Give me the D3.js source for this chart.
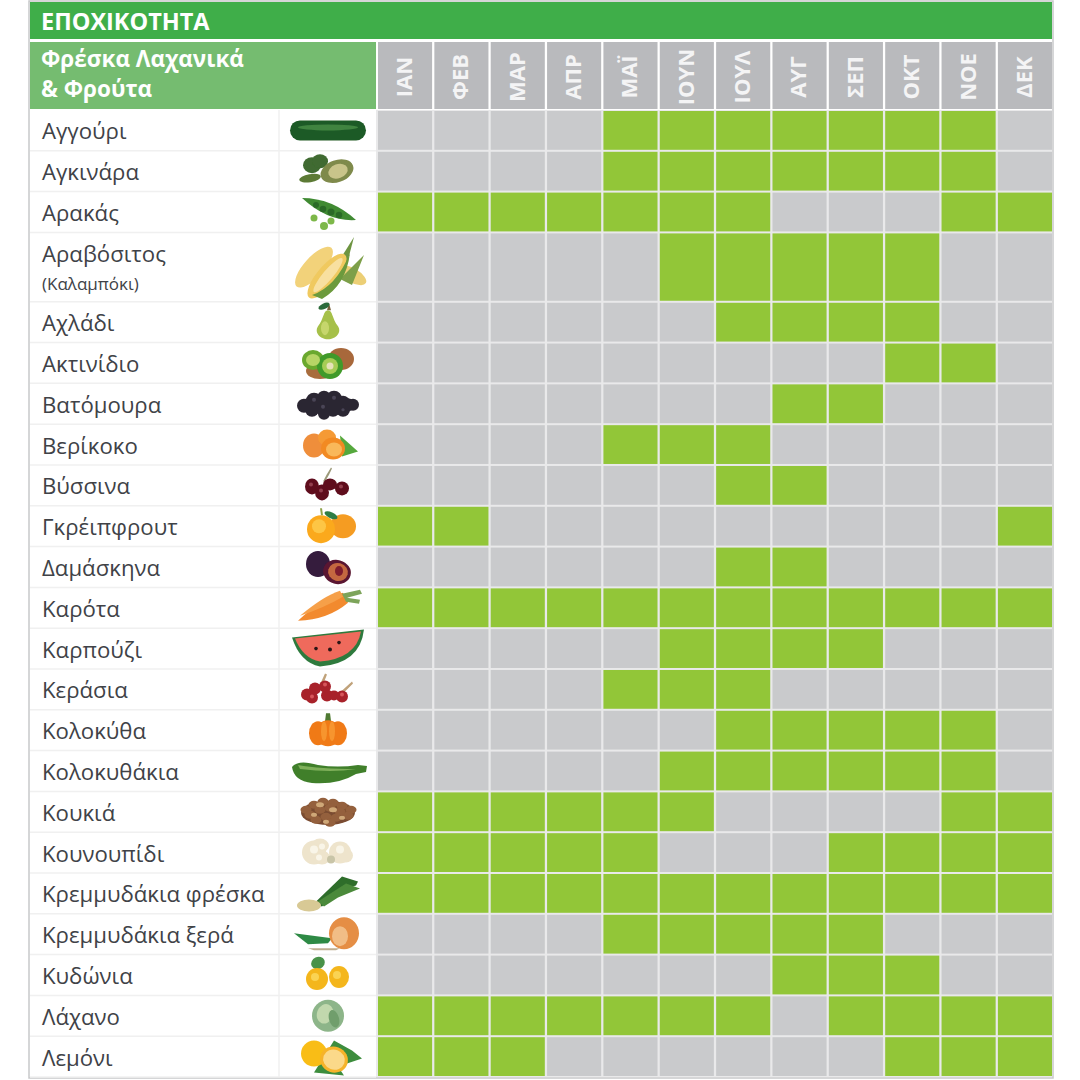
<!DOCTYPE html>
<html lang="el">
<head>
<meta charset="utf-8">
<script src="https://cdn.jsdelivr.net/npm/d3@7/dist/d3.min.js"></script>
<style>
  html, body { margin: 0; padding: 0; background: #fff; }
  svg { display: block; }
  text { font-family: "Open Sans", "Noto Sans", sans-serif; }
</style>
</head>
<body>
<div id="app"></div>
<script>
const title = "ΕΠΟΧΙΚΟΤΗΤΑ";
const subtitle = ["Φρέσκα Λαχανικά", "& Φρούτα"];
const months = ["ΙΑΝ", "ΦΕΒ", "ΜΑΡ", "ΑΠΡ", "ΜΑΪ", "ΙΟΥΝ", "ΙΟΥΛ", "ΑΥΓ", "ΣΕΠ", "ΟΚΤ", "ΝΟΕ", "ΔΕΚ"];
const foods = ["Αγγούρι", "Αγκινάρα", "Αρακάς", "Αραβόσιτος", "Αχλάδι", "Ακτινίδιο", "Βατόμουρα", "Βερίκοκο",
  "Βύσσινα", "Γκρέιπφρουτ", "Δαμάσκηνα", "Καρότα", "Καρπούζι", "Κεράσια", "Κολοκύθα", "Κολοκυθάκια",
  "Κουκιά", "Κουνουπίδι", "Κρεμμυδάκια φρέσκα", "Κρεμμυδάκια ξερά", "Κυδώνια", "Λάχανο", "Λεμόνι"];
const notes = { "Αραβόσιτος": "(Καλαμπόκι)" };
// months in season, per food, same order as foods
const seasons = [
  ["ΜΑΪ", "ΙΟΥΝ", "ΙΟΥΛ", "ΑΥΓ", "ΣΕΠ", "ΟΚΤ", "ΝΟΕ"],
  ["ΜΑΪ", "ΙΟΥΝ", "ΙΟΥΛ", "ΑΥΓ", "ΣΕΠ", "ΟΚΤ", "ΝΟΕ"],
  ["ΙΑΝ", "ΦΕΒ", "ΜΑΡ", "ΑΠΡ", "ΜΑΪ", "ΙΟΥΝ", "ΙΟΥΛ", "ΝΟΕ", "ΔΕΚ"],
  ["ΙΟΥΝ", "ΙΟΥΛ", "ΑΥΓ", "ΣΕΠ", "ΟΚΤ"],
  ["ΙΟΥΛ", "ΑΥΓ", "ΣΕΠ", "ΟΚΤ"],
  ["ΟΚΤ", "ΝΟΕ"],
  ["ΑΥΓ", "ΣΕΠ"],
  ["ΜΑΪ", "ΙΟΥΝ", "ΙΟΥΛ"],
  ["ΙΟΥΛ", "ΑΥΓ"],
  ["ΙΑΝ", "ΦΕΒ", "ΔΕΚ"],
  ["ΙΟΥΛ", "ΑΥΓ"],
  ["ΙΑΝ", "ΦΕΒ", "ΜΑΡ", "ΑΠΡ", "ΜΑΪ", "ΙΟΥΝ", "ΙΟΥΛ", "ΑΥΓ", "ΣΕΠ", "ΟΚΤ", "ΝΟΕ", "ΔΕΚ"],
  ["ΙΟΥΝ", "ΙΟΥΛ", "ΑΥΓ", "ΣΕΠ"],
  ["ΜΑΪ", "ΙΟΥΝ", "ΙΟΥΛ"],
  ["ΙΟΥΛ", "ΑΥΓ", "ΣΕΠ", "ΟΚΤ", "ΝΟΕ"],
  ["ΙΟΥΝ", "ΙΟΥΛ", "ΑΥΓ", "ΣΕΠ", "ΟΚΤ", "ΝΟΕ"],
  ["ΙΑΝ", "ΦΕΒ", "ΜΑΡ", "ΑΠΡ", "ΜΑΪ", "ΙΟΥΝ", "ΝΟΕ", "ΔΕΚ"],
  ["ΙΑΝ", "ΦΕΒ", "ΜΑΡ", "ΑΠΡ", "ΜΑΪ", "ΣΕΠ", "ΟΚΤ", "ΝΟΕ", "ΔΕΚ"],
  ["ΙΑΝ", "ΦΕΒ", "ΜΑΡ", "ΑΠΡ", "ΜΑΪ", "ΙΟΥΝ", "ΙΟΥΛ", "ΑΥΓ", "ΣΕΠ", "ΟΚΤ", "ΝΟΕ", "ΔΕΚ"],
  ["ΜΑΪ", "ΙΟΥΝ", "ΙΟΥΛ", "ΑΥΓ", "ΣΕΠ"],
  ["ΑΥΓ", "ΣΕΠ", "ΟΚΤ"],
  ["ΙΑΝ", "ΦΕΒ", "ΜΑΡ", "ΑΠΡ", "ΜΑΪ", "ΙΟΥΝ", "ΙΟΥΛ", "ΣΕΠ", "ΟΚΤ", "ΝΟΕ", "ΔΕΚ"],
  ["ΙΑΝ", "ΦΕΒ", "ΜΑΡ", "ΟΚΤ", "ΝΟΕ", "ΔΕΚ"]
];

const full = { width: 1080, height: 1080 };
const table = { left: 30, right: 1052, top: 2, bottom: 1077, grid: 378, thumb: 279, rows: 110 };
const colors = {
  title: "#3fae49", sub: "#75bc70", head: "#b9babd", off: "#c9cacc", on: "#92c638",
  line: "#e9e9ea", rule: "#f0f0f0", frame: "#c8c9ca", text: "#404247"
};

// the row with a note is taller than the rest
const spans = foods.map(f => notes[f] ? 1.7 : 1);
const edges = d3.cumsum([0, ...spans]);

const x = d3.scaleBand().domain(months).range([table.grid, table.right]).paddingInner(0.04).paddingOuter(0);
const y = d3.scaleLinear().domain([0, edges[edges.length - 1]]).range([table.rows, table.bottom]);

const svg = d3.select("#app").append("svg")
  .attr("width", full.width)
  .attr("height", full.height)
  .attr("viewBox", `0 0 ${full.width} ${full.height}`);

svg.append("defs").append("filter").attr("id", "soft")
  .append("feGaussianBlur").attr("stdDeviation", 0.5);

// frame and grid background
svg.append("rect")
  .attr("x", table.left - 1).attr("y", table.top - 1)
  .attr("width", table.right - table.left + 2).attr("height", table.bottom - table.top + 2)
  .attr("fill", "#fff").attr("stroke", colors.frame).attr("stroke-width", 1.5);
svg.append("rect")
  .attr("x", table.grid - 2).attr("y", table.rows)
  .attr("width", table.right - table.grid + 2).attr("height", table.bottom - table.rows)
  .attr("fill", colors.line);

// title bar + subheader
svg.append("rect")
  .attr("x", table.left).attr("y", table.top)
  .attr("width", table.right - table.left).attr("height", 37)
  .attr("fill", colors.title);
svg.append("text")
  .attr("x", 41).attr("y", 30)
  .attr("fill", "#fff").attr("font-size", 23.5).attr("font-weight", 700)
  .text(title);
svg.append("rect")
  .attr("x", table.left).attr("y", 42)
  .attr("width", table.grid - table.left - 2).attr("height", table.rows - 43)
  .attr("fill", colors.sub);
svg.selectAll(".sub").data(subtitle).join("text")
  .attr("class", "sub")
  .attr("x", 41).attr("y", (d, i) => 67 + i * 29.5)
  .attr("fill", "#fff").attr("font-size", 22.5).attr("font-weight", 700)
  .text(d => d);

// month headers
svg.selectAll(".head").data(months).join("rect")
  .attr("class", "head")
  .attr("x", d => x(d)).attr("y", 42)
  .attr("width", x.bandwidth()).attr("height", table.rows - 43)
  .attr("fill", colors.head);

const axis = svg.append("g")
  .attr("transform", "translate(-1,77)")
  .call(d3.axisTop(x).tickSize(0));
axis.select(".domain").remove();
axis.selectAll("text")
  .attr("y", 0).attr("dy", "0.36em")
  .attr("transform", "rotate(-90)")
  .attr("text-anchor", "middle")
  .attr("fill", "#f4f4f5")
  .attr("font-size", 22).attr("font-weight", 700)
  .attr("font-family", '"Open Sans", sans-serif');

// rows
const rows = svg.selectAll(".row").data(foods).join("g").attr("class", "row");

rows.append("line")
  .attr("x1", table.left).attr("x2", table.grid - 2)
  .attr("y1", (d, i) => y(edges[i + 1])).attr("y2", (d, i) => y(edges[i + 1]))
  .attr("stroke", colors.rule).attr("stroke-width", 1.5);

svg.append("line")
  .attr("x1", table.thumb).attr("x2", table.thumb)
  .attr("y1", table.rows).attr("y2", table.bottom)
  .attr("stroke", colors.rule).attr("stroke-width", 1.5);

rows.selectAll(".cell")
  .data((d, i) => months.map(m => ({ m, i, on: seasons[i].includes(m) })))
  .join("rect")
  .attr("class", "cell")
  .attr("x", d => x(d.m))
  .attr("y", d => y(edges[d.i]) + 1)
  .attr("width", x.bandwidth())
  .attr("height", d => y(edges[d.i + 1]) - y(edges[d.i]) - 2)
  .attr("fill", d => d.on ? colors.on : colors.off);

rows.append("text")
  .attr("x", 42)
  .attr("y", (d, i) => notes[d] ? y(edges[i]) + 30 : (y(edges[i]) + y(edges[i + 1])) / 2 + 9)
  .attr("fill", colors.text).attr("font-size", 22.2)
  .text(d => d);

rows.filter(d => notes[d]).append("text")
  .attr("x", 42)
  .attr("y", (d) => y(edges[foods.indexOf(d)]) + 58)
  .attr("fill", colors.text).attr("font-size", 17)
  .text(d => notes[d]);

// little food pictures, drawn around the middle of each thumb cell
const oval = (g, cx, cy, rx, ry, fill, rot = 0) => g.append("ellipse")
  .attr("cx", cx).attr("cy", cy).attr("rx", rx).attr("ry", ry).attr("fill", fill)
  .attr("transform", rot ? `rotate(${rot} ${cx} ${cy})` : null);
const shape = (g, d, fill) => g.append("path").attr("d", d).attr("fill", fill);
const ovals = (g, list, fill) => list.forEach(p => oval(g, p[0], p[1], p[2], p[3] ?? p[2], p[4] ?? fill, p[5] ?? 0));

const pictures = [
  g => {
    g.append("rect").attr("x", -38).attr("y", -10).attr("width", 76).attr("height", 20).attr("rx", 10).attr("fill", "#1e5a26");
    oval(g, 0, -3, 30, 3, "#3f8440");
  },
  g => {
    ovals(g, [[-16, -6, 9, 8], [-8, -10, 8, 7], [-18, 7, 11, 4, "#5b7a35", -10]], "#3f6b30");
    oval(g, 9, 0, 17, 11, "#7f8a4c", -20); oval(g, 10, 0, 10, 7, "#c9c48a", -20);
  },
  g => {
    shape(g, "M-26,-14 Q4,-14 28,8 Q0,10 -26,-14Z", "#3f8a32");
    ovals(g, [[-12, -7, 3], [-5, -3, 3.3], [3, 0, 3.5], [11, 3, 3.3]], "#2c6b28");
    ovals(g, [[-14, 6, 3.5], [-4, 14, 4], [3, 9, 3.5]], "#7db84a");
  },
  g => {
    shape(g, "M-8,24 L26,-30 L16,8Z", "#6d9440");
    oval(g, 24, 8, 16, 7, "#eccf76", -150); shape(g, "M12,12 L36,-12 L24,18Z", "#7d9f48");
    oval(g, -14, 0, 26, 10, "#f2d27a", -48); oval(g, -1, 9, 28, 10, "#f0c95e", -50);
    oval(g, 0, 8, 22, 5, "#f8e0a0", -50); shape(g, "M-16,28 Q8,20 22,-14 Q18,18 -6,32Z", "#6c9a3c");
  },
  g => {
    shape(g, "M1,-19 L3,-12 L-1,-12Z", "#77603a"); oval(g, -4, -16, 6, 2.8, "#2c6b3a", -25);
    shape(g, "M0,-12 C5,-12 4,-3 10,4 C14,10 8,17 0,17 C-8,17 -14,10 -10,4 C-4,-3 -5,-12 0,-12Z", "#a6c04a");
    oval(g, -3, 6, 4, 7, "#c6d66c");
  },
  g => {
    ovals(g, [[13, -4, 13, 11, "#a8683a"], [-8, 8, 14, 8, "#a86c3c"]]);
    ovals(g, [[-15, -3, 11, 10, "#6aa82e"], [2, 3, 13, 13, "#3f9a2a"]]);
    ovals(g, [[-15, -3, 7, 6, "#b7d566"], [2, 3, 8, 8, "#a7cc55"], [2, 3, 3.5, 3.5, "#e6e2b8"]]);
  },
  g => {
    oval(g, 0, 1, 30, 9, "#2b2733");
    ovals(g, [[-24, 2, 7], [-14, -3, 8], [-4, -6, 7], [6, -5, 8], [15, -1, 7], [25, 1, 6],
      [-16, 6, 7], [-5, 4, 8], [5, 6, 7], [15, 6, 7], [-4, 10, 6]], "#2b2733");
    ovals(g, [[-14, -4, 2], [6, -6, 2], [-5, 3, 2], [15, 6, 1.6]], "#4a4556");
  },
  g => {
    shape(g, "M12,-9 L30,7 L14,12 Z", "#55a83c");
    ovals(g, [[-14, 1, 11, 12, "#ef8e3a"], [-1, -7, 9, 8, "#f59a35"], [5, 4, 12, 11, "#f28a24"], [6, 5, 8, 7, "#f9b85a"]]);
  },
  g => {
    shape(g, "M-5,-4 Q-1,-12 3,-18 L4,-17 Q1,-10 -3,-4Z", "#9c9a7a");
    ovals(g, [[-16, 1, 7, 8], [-6, 7, 7, 8], [2, -1, 7, 6], [14, 3, 7, 7]], "#5f0f1f");
    ovals(g, [[-17, -1, 2], [-7, 5, 2], [13, 1, 2]], "#93404e");
  },
  g => {
    ovals(g, [[15, 0, 13, 12, "#f59c22"], [-7, 3, 14, 14, "#fba91c"], [-9, 0, 7, 7, "#fdc645"]]);
    oval(g, 3, -11, 7, 3, "#2f7d45", 25);
    shape(g, "M-7,-11 L-8,-18 L-6,-18 L-5,-11Z", "#8ea24a");
  },
  g => {
    oval(g, -10, -3, 12, 13, "#341a3e");
    oval(g, 9, 5, 14, 12, "#5a1731", 15); oval(g, 10, 5, 10, 9, "#c4683f", 15); oval(g, 11, 4, 4, 5, "#7e1d2d");
  },
  g => {
    shape(g, "M-30,13 Q-6,-10 15,-15 L20,-5 Q0,12 -30,13Z", "#f28a2e");
    shape(g, "M-28,8 Q-4,-12 12,-17 L15,-11 Q-4,0 -28,8Z", "#f6a04a");
    shape(g, "M14,-14 L32,-18 L34,-14 L19,-10 L32,-8 L31,-4 L18,-6Z", "#7da45a");
  },
  g => {
    shape(g, "M-36,-11 L36,-19 Q32,15 -8,18 Q-28,14 -36,-11Z", "#2f7a3d");
    shape(g, "M-33,-10 L33,-17 Q28,10 -8,13 Q-25,10 -33,-10Z", "#ef6a5c");
    ovals(g, [[-12, 0, 1.8], [2, 1, 2], [11, -6, 1.8]], "#2a1414");
  },
  g => {
    shape(g, "M-8,-5 L-3,-16 L-1,-15 L-5,-5Z M13,2 L24,-8 L25,-6 L16,3Z", "#c0a27a");
    ovals(g, [[-13, -1, 6], [-21, 5, 6], [-16, 8, 6], [-1, 6, 6], [-3, -3, 6], [6, 6, 5], [14, 7, 6]], "#a8222c");
    ovals(g, [[-16, 7, 2], [-3, -5, 2], [14, 5, 2]], "#d6565a");
  },
  g => {
    shape(g, "M-3,-9 L-2,-17 L2,-17 L3,-9Z", "#4f7a30");
    ovals(g, [[-10, 3, 9, 12], [10, 3, 9, 12], [0, 3, 13, 13]], "#f07a18");
    ovals(g, [[-4, 1, 3, 10], [4, 1, 3, 10]], "#f7952f");
  },
  g => {
    shape(g, "M-36,-4 Q-30,-12 -10,-6 Q10,-3 30,-6 L39,-5 L38,1 L28,3 Q10,14 -16,12 Q-34,10 -36,-4Z", "#3f7f2c");
    shape(g, "M-30,-6 Q-8,-2 28,-2 Q4,2 -28,-2Z", "#7fb05a");
  },
  g => {
    oval(g, 0, 1, 27, 12, "#7a4c30");
    ovals(g, [[-22, -2, 5.5, 4], [-14, -7, 5.5, 4], [-5, -10, 5.5, 4], [5, -9, 5.5, 4], [14, -6, 5.5, 4], [23, -2, 5.5, 4],
      [-18, 3, 5.5, 4], [-8, -2, 5.5, 4], [2, -4, 5.5, 4], [12, 0, 5.5, 4], [20, 4, 5.5, 4],
      [-12, 8, 5.5, 4], [-2, 5, 5.5, 4], [8, 6, 5.5, 4], [2, 11, 5.5, 4]], "#94603c");
    ovals(g, [[-8, -7, 4, 2.5], [5, -2, 4, 2.5], [-14, 3, 3, 2], [14, 6, 3, 2], [-2, 10, 3, 2]], "#cfa878");
  },
  g => {
    ovals(g, [[-14, 0, 12, 12], [-8, -7, 9, 7], [-6, 5, 8, 7], [12, 0, 11, 11], [18, 3, 7, 7]], "#eee4cc");
    ovals(g, [[-14, -3, 4], [-6, -6, 3], [12, -3, 4], [-9, 5, 3]], "#f9f5e8");
    oval(g, 3, 7, 4, 4, "#c9c5a8");
  },
  g => {
    shape(g, "M-14,10 L14,-17 L30,-12 L28,-8 L12,-3 L-6,13Z", "#2f6d2c");
    shape(g, "M-10,8 L18,-10 L32,-5 L10,4 L-4,13Z", "#4b8a3a");
    oval(g, -19, 12, 12, 6, "#d8c995");
  },
  g => {
    shape(g, "M-34,-1 L4,4 L0,9 L-20,10 Z", "#2f8a45");
    oval(g, 16, -1, 15, 16, "#e58e44"); oval(g, 12, 2, 8, 10, "#f1bd86");
    shape(g, "M-20,14 L12,14 L8,16 L-14,16Z", "#bfae90");
  },
  g => {
    oval(g, -10, -12, 7, 6, "#4a9248", -25);
    ovals(g, [[-11, 4, 11, 11], [11, 2, 10, 11]], "#f4b61c");
    ovals(g, [[-13, 2, 4], [9, 0, 4]], "#fad353");
  },
  g => {
    oval(g, 0, 0, 16, 16, "#8db589"); oval(g, -3, -2, 8, 10, "#c1d8ad", 20); oval(g, 6, 3, 5, 9, "#6f9e6c", -15);
  },
  g => {
    shape(g, "M6,-16 L24,-6 L34,2 L10,10 L16,19 L-14,16Z", "#3d8d3d");
    oval(g, -14, -3, 13, 13, "#f9bd16");
    oval(g, 6, 3, 14, 13, "#f6b32a", 20); oval(g, 6, 3, 11, 10, "#fbd98a", 20);
  }
];

rows.append("g")
  .attr("transform", (d, i) => `translate(328,${(y(edges[i]) + y(edges[i + 1])) / 2})`)
  .attr("filter", "url(#soft)")
  .each(function(d, i) { pictures[i](d3.select(this)); });
</script>
</body>
</html>
